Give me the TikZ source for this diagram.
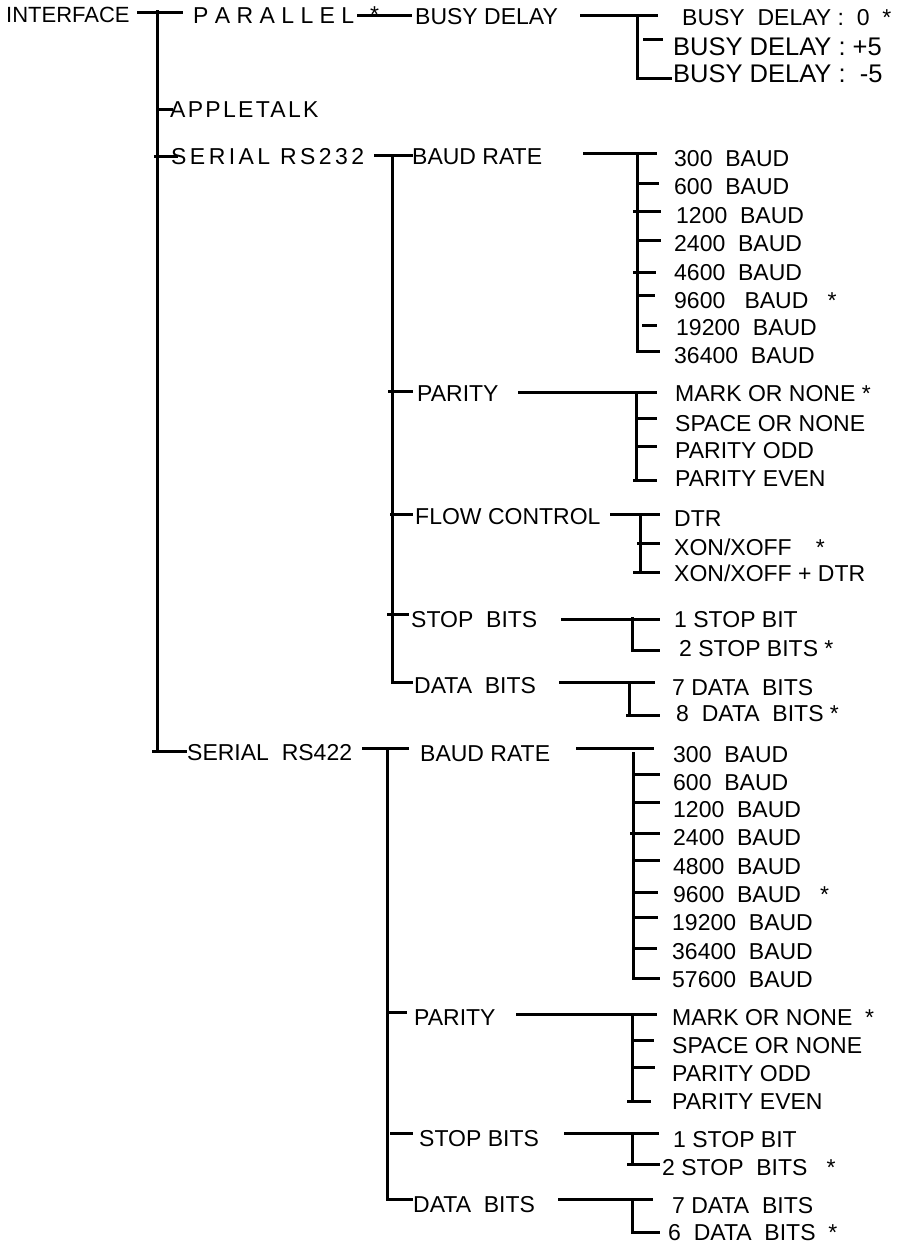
\documentclass[tikz,border=0pt]{standalone}
\usepackage{fontspec}
\setmainfont{Liberation Sans}
\begin{document}
\begin{tikzpicture}[x=1pt,y=-1pt,
  t/.style={anchor=west,inner sep=0pt,font=\fontsize{23}{23}\selectfont,text height=16.5pt,text depth=0pt},
  tb/.style={t,font=\fontsize{25.5}{25.5}\selectfont,text height=18.3pt},
  tls/.style={t,font=\fontsize{23}{23}\selectfont\addfontfeature{LetterSpace=#1}},
  ln/.style={line width=3pt,line join=miter}]
\useasboundingbox (0,0) rectangle (902,1245);

% ---------- level 0 / 1 texts
\node[t,font=\fontsize{22}{22}\selectfont] (iface) at (6,14) {INTERFACE};
\node[t] (par) at (193,15) {P A R A L L E L};
\node[t] (parstar) at (370,14) {*};
\node[tls=10] (apple) at (170,109) {APPLETALK};
\node[tls=15] (s232) at (171,156) {SERIAL RS232};
\node[t] (s422) at (187,752) {SERIAL~ RS422};

% ---------- parallel branch
\node[t] (busy) at (415,16) {BUSY DELAY};
\node[t] (bd0) at (682,17) {BUSY~ DELAY : ~0~ *};
\node[tb] (bdp) at (673,46) {BUSY DELAY : +5};
\node[tb] (bdm) at (673,73) {BUSY DELAY : ~-5};

% ---------- RS232 branch
\node[t] (baud1) at (412,156) {BAUD RATE};
\node[t] (ra1) at (674,158) {300~ BAUD};
\node[t] (ra2) at (674,186) {600~ BAUD};
\node[t] (ra3) at (676,215) {1200~ BAUD};
\node[t] (ra4) at (674,243) {2400~ BAUD};
\node[t] (ra5) at (674,272) {4600~ BAUD};
\node[t] (ra6) at (674,300) {9600~~ BAUD~~ *};
\node[t] (ra7) at (676,327) {19200~ BAUD};
\node[t] (ra8) at (674,355) {36400~ BAUD};

\node[t] (par1) at (417,393) {PARITY};
\node[t] (pa1) at (675,393) {MARK OR NONE *};
\node[t] (pa2) at (675,423) {SPACE OR NONE};
\node[t] (pa3) at (675,450) {PARITY ODD};
\node[t] (pa4) at (675,478) {PARITY EVEN};

\node[t] (flow1) at (415,516) {FLOW CONTROL};
\node[t] (fa1) at (674,518) {DTR};
\node[t] (fa2) at (674,547) {XON/XOFF\hspace{24pt}*};
\node[t] (fa3) at (674,573) {XON/XOFF + DTR};

\node[t] (stop1) at (411,619) {STOP~ BITS};
\node[t] (sa1) at (674,619) {1 STOP BIT};
\node[t] (sa2) at (679,648) {2 STOP BITS *};

\node[t] (data1) at (414,685) {DATA~ BITS};
\node[t] (da1) at (672,687) {7 DATA~ BITS};
\node[t] (da2) at (676,713) {8~ DATA~ BITS *};

% ---------- RS422 branch
\node[t] (baud2) at (420,753) {BAUD RATE};
\node[t] (rb1) at (673,754) {300~ BAUD};
\node[t] (rb2) at (673,782) {600~ BAUD};
\node[t] (rb3) at (673,809) {1200~ BAUD};
\node[t] (rb4) at (673,837) {2400~ BAUD};
\node[t] (rb5) at (673,866) {4800~ BAUD};
\node[t] (rb6) at (673,894) {9600~ BAUD~~ *};
\node[t] (rb7) at (672,922) {19200~ BAUD};
\node[t] (rb8) at (672,951) {36400~ BAUD};
\node[t] (rb9) at (672,979) {57600~ BAUD};

\node[t] (par2) at (414,1017) {PARITY};
\node[t] (pb1) at (672,1017) {MARK OR NONE~ *};
\node[t] (pb2) at (672,1045) {SPACE OR NONE};
\node[t] (pb3) at (672,1073) {PARITY ODD};
\node[t] (pb4) at (672,1101) {PARITY EVEN};

\node[t] (stop2) at (419,1138) {STOP BITS};
\node[t] (sb1) at (673,1139) {1 STOP BIT};
\node[t] (sb2) at (662,1167) {2 STOP~ BITS~~ *};

\node[t] (data2) at (413,1204) {DATA~ BITS};
\node[t] (db1) at (672,1205) {7 DATA~ BITS};
\node[t] (db2) at (668,1232) {6~ DATA~ BITS~ *};

% ---------- junction coordinates
\coordinate (trT) at (157,10);
\coordinate (trB) at (157,751);
\coordinate (ifL) at (137,12);  \coordinate (ifR) at (183,12);
\coordinate (apL) at (157,109); \coordinate (apR) at (173,109);
\coordinate (s2L) at (154,156); \coordinate (s2R) at (178,156);
\coordinate (s4L) at (152,751); \coordinate (s4R) at (187,751);
\coordinate (paL) at (357,15);  \coordinate (paR) at (412,15);

% level 0 trunk
\draw[ln] (trT) -- (trB);
\draw[ln] (ifL) -- (ifR);
\draw[ln] (apL) -- (apR);
\draw[ln] (s2L) -- (s2R);
\draw[ln] (s4L) -- (s4R);
\draw[ln] (paL) -- (paR);

% busy delay bracket
\coordinate (buL) at (580,15); \coordinate (buR) at (658,15);
\coordinate (buT) at (637,15); \coordinate (buB) at (637,78);
\draw[ln] (buL) -- (buR);
\draw[ln] (buT) -- (buB) -- (672,78);
\draw[ln] (643,39) -- (663,39);

% RS232 level-2 trunk
\coordinate (k2a) at (374,155); \coordinate (k2b) at (413,155);
\coordinate (k2T) at (392,155); \coordinate (k2B) at (392,682);
\draw[ln] (k2a) -- (k2b);
\draw[ln] (k2T) -- (k2B) -- (413,682);
\draw[ln] (388,391) -- (413,391);
\draw[ln] (390,514) -- (413,514);
\draw[ln] (387,614) -- (409,614);

% RS232 baud bracket
\coordinate (b1L) at (583,153); \coordinate (b1R) at (657,153);
\coordinate (b1T) at (637,153); \coordinate (b1B) at (637,351);
\draw[ln] (b1L) -- (b1R);
\draw[ln] (b1T) -- (b1B) -- (660,351);
\draw[ln] (637,183) -- (659,183);
\draw[ln] (633,211) -- (661,211);
\draw[ln] (637,240) -- (661,240);
\draw[ln] (633,272) -- (656,272);
\draw[ln] (637,295) -- (655,295);
\draw[ln] (642,325) -- (657,325);

% RS232 parity bracket
\coordinate (p1L) at (518,392); \coordinate (p1R) at (657,392);
\coordinate (p1T) at (636,392); \coordinate (p1B) at (636,480);
\draw[ln] (p1L) -- (p1R);
\draw[ln] (p1T) -- (p1B) -- (657,480);
\draw[ln] (633,480) -- (p1B);
\draw[ln] (636,418) -- (657,418);
\draw[ln] (636,446) -- (657,446);

% RS232 flow bracket
\coordinate (f1L) at (610,514); \coordinate (f1R) at (660,514);
\coordinate (f1T) at (640,514); \coordinate (f1B) at (640,572);
\draw[ln] (f1L) -- (f1R);
\draw[ln] (f1T) -- (f1B) -- (660,572);
\draw[ln] (633,572) -- (f1B);
\draw[ln] (637,543) -- (660,543);

% RS232 stop bracket
\coordinate (st1L) at (561,619); \coordinate (st1R) at (660,619);
\coordinate (st1T) at (632,617); \coordinate (st1B) at (632,650);
\draw[ln] (st1L) -- (st1R);
\draw[ln] (st1T) -- (st1B) -- (660,650);

% RS232 data bracket
\coordinate (d1L) at (559,682); \coordinate (d1R) at (655,682);
\coordinate (d1T) at (629,682); \coordinate (d1B) at (629,715);
\draw[ln] (d1L) -- (d1R);
\draw[ln] (d1T) -- (d1B) -- (660,715);
\draw[ln] (626,715) -- (d1B);

% RS422 level-2 trunk
\coordinate (k4a) at (362,748); \coordinate (k4b) at (409,748);
\coordinate (k4T) at (387,748); \coordinate (k4B) at (387,1199);
\draw[ln] (k4a) -- (k4b);
\draw[ln] (k4T) -- (k4B) -- (413,1199);
\draw[ln] (388,1012) -- (407,1012);
\draw[ln] (390,1133) -- (413,1133);

% RS422 baud bracket
\coordinate (b2L) at (576,748); \coordinate (b2R) at (654,748);
\coordinate (b2T) at (633,752); \coordinate (b2B) at (633,978);
\draw[ln] (b2L) -- (b2R);
\draw[ln] (b2T) -- (b2B) -- (660,978);
\draw[ln] (633,774) -- (660,774);
\draw[ln] (633,802) -- (660,802);
\draw[ln] (630,833) -- (660,833);
\draw[ln] (633,860) -- (660,860);
\draw[ln] (633,892) -- (658,892);
\draw[ln] (633,917) -- (658,917);
\draw[ln] (633,948) -- (657,948);

% RS422 parity bracket
\coordinate (p2L) at (516,1014); \coordinate (p2R) at (657,1014);
\coordinate (p2T) at (632,1014); \coordinate (p2B) at (632,1101);
\draw[ln] (p2L) -- (p2R);
\draw[ln] (p2T) -- (p2B);
\draw[ln] (627,1101) -- (651,1101);
\draw[ln] (632,1040) -- (654,1040);
\draw[ln] (632,1067) -- (655,1067);

% RS422 stop bracket
\coordinate (st2L) at (564,1133); \coordinate (st2R) at (659,1133);
\coordinate (st2T) at (632,1133); \coordinate (st2B) at (632,1164);
\draw[ln] (st2L) -- (st2R);
\draw[ln] (st2T) -- (st2B);
\draw[ln] (627,1164) -- (660,1164);

% RS422 data bracket
\coordinate (d2L) at (558,1199); \coordinate (d2R) at (653,1199);
\coordinate (d2T) at (632,1199); \coordinate (d2B) at (632,1232);
\draw[ln] (d2L) -- (d2R);
\draw[ln] (d2T) -- (d2B) -- (660,1232);
\end{tikzpicture}
\end{document}
